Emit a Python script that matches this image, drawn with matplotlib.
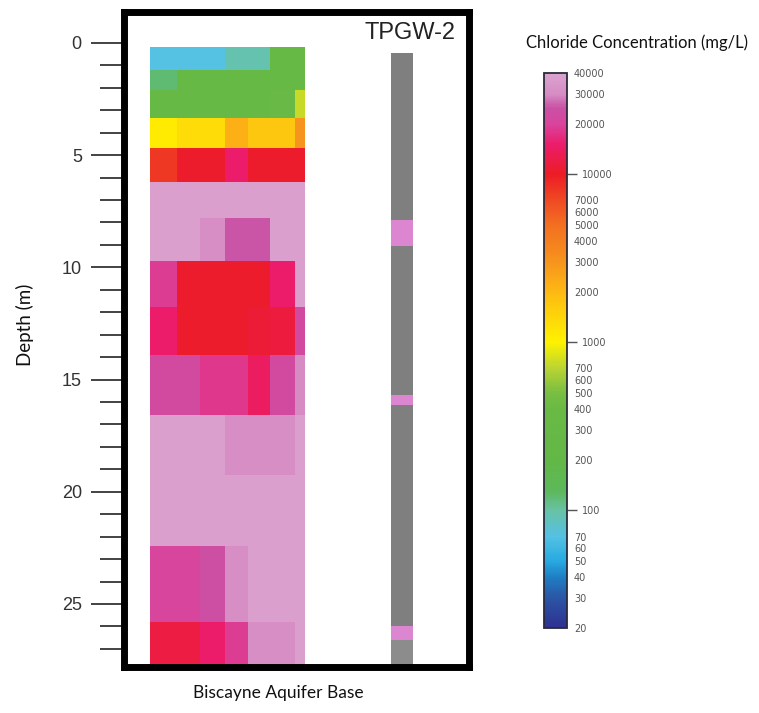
import numpy as np
import matplotlib
matplotlib.use("Agg")
import matplotlib.pyplot as plt
from matplotlib.colors import LinearSegmentedColormap, LogNorm
from matplotlib.ticker import FixedLocator, NullFormatter

# ---------------- data ----------------
# horizontal cell edges of the resistivity-derived section (arbitrary distance units)
col_edges = [7.7, 15.5, 22.1, 29.4, 36.0, 42.4, 49.6, 52.5]
# depth edges (m)
row_edges = [0.18, 1.2, 2.1, 3.35, 4.7, 6.2, 7.8, 9.7, 11.75, 13.9, 16.6, 19.25, 22.4, 25.8, 28.05]
# chloride concentration (mg/L) per cell, rows top->bottom, columns left->right
chloride = [
    [70, 70, 70, 95, 95, 300, 300],
    [120, 300, 300, 300, 300, 300, 300],
    [300, 300, 300, 300, 300, 330, 750],
    [1100, 1300, 1300, 2200, 1700, 1700, 3000],
    [8000, 10500, 10500, 15000, 10500, 10500, 10500],
    [38000, 38000, 38000, 38000, 38000, 38000, 38000],
    [38000, 38000, 31000, 25000, 25000, 38000, 38000],
    [19000, 10500, 10500, 10500, 10500, 15000, 38000],
    [15000, 10500, 10500, 10500, 11000, 11500, 22000],
    [22000, 22000, 18000, 18000, 14000, 22000, 30000],
    [38000, 38000, 38000, 31000, 31000, 31000, 38000],
    [38000, 38000, 38000, 38000, 38000, 38000, 38000],
    [20000, 20000, 24000, 31000, 38000, 38000, 38000],
    [12000, 12000, 15000, 19000, 31000, 31000, 38000],
]

# well log (TPGW-2) intervals
well_top = [0.45, 7.9, 9.05, 15.7, 16.15, 26.0, 26.6]
well_bottom = [7.9, 9.05, 15.7, 16.15, 26.0, 26.6, 28.2]
well_class = ["gray", "pink", "gray", "pink", "gray", "pink", "gray2"]
well_x = 80.6

# colour scale anchors
cb_values = [20, 30, 40, 50, 70, 100, 130, 200, 400, 500, 700, 1000, 2000, 3000,
             5000, 7000, 10000, 15000, 20000, 25000, 30000, 40000]
cb_colors = ["#2e3192", "#2b55a5", "#1f7fc4", "#27aae1", "#55c1e3", "#68c2a4", "#5cb85a",
             "#62b846", "#6ab945", "#78be42", "#b9d433", "#fff200", "#fdb913", "#f7941d",
             "#f36f21", "#ef4a23", "#ed1c24", "#ec1c6a", "#d9449c", "#c951a4", "#d68bc3", "#dba3cf"]
cb_tick_major = [100, 1000, 10000]
cb_tick_minor = [20, 30, 40, 50, 60, 70, 200, 300, 400, 500, 600, 700,
                 2000, 3000, 4000, 5000, 6000, 7000, 20000, 30000, 40000]

depth_ticks = [0, 5, 10, 15, 20, 25]
depth_minor = list(range(0, 29))

# ---------------- figure ----------------
W, H = 759, 713
fig = plt.figure(figsize=(W / 100, H / 100), dpi=100)
fig.patch.set_facecolor("white")

lo, hi = np.log10(20), np.log10(40000)
pos = [(np.log10(v) - lo) / (hi - lo) for v in cb_values]
cmap = LinearSegmentedColormap.from_list("chloride", list(zip(pos, cb_colors)), N=512)
norm = LogNorm(vmin=20, vmax=40000)

ax = fig.add_axes([123.5 / W, 1 - 667 / H, (469 - 123.5) / W, (667 - 12) / H])
mesh = ax.pcolormesh(col_edges, row_edges, np.array(chloride, float), cmap=cmap, norm=norm,
                     shading="flat", edgecolors="none", antialiased=False)

well_colors = {"gray": "#7f7f7f", "pink": "#dc86d2", "gray2": "#8c8c8c"}
for t, b, c in zip(well_top, well_bottom, well_class):
    ax.bar(well_x, b - t, bottom=t, width=6.4, color=well_colors[c], linewidth=0)

ax.set_xlim(0, 100)
ax.set_ylim(27.81, -1.38)
ax.set_xticks([])
ax.yaxis.set_major_locator(FixedLocator(depth_ticks))
ax.yaxis.set_minor_locator(FixedLocator(depth_minor))
ax.yaxis.set_minor_formatter(NullFormatter())
ax.set_yticklabels([str(d) for d in depth_ticks], fontfamily="Liberation Sans", fontsize=13, color="#333333")
ax.tick_params(axis="y", which="major", direction="out", length=24, width=1.2, pad=6, color="#222222")
ax.tick_params(axis="y", which="minor", direction="out", length=17, width=1.2, color="#222222")
for s in ax.spines.values():
    s.set_linewidth(5)
    s.set_color("black")

fig.text(25 / W, 1 - 325 / H, "Depth (m)", ha="center", va="center", rotation=90,
         fontfamily="Lato", fontsize=13.5, color="#111111")
fig.text(410 / W, 1 - 33 / H, "TPGW-2", ha="center", va="center",
         fontfamily="Liberation Sans", fontsize=17, color="#222222")
fig.text(278 / W, 1 - 693 / H, "Biscayne Aquifer Base", ha="center", va="center",
         fontfamily="Lato", fontsize=12.5, color="#111111")
fig.text(637 / W, 1 - 43 / H, "Chloride Concentration (mg/L)", ha="center", va="center",
         fontfamily="Lato", fontsize=12, color="#111111")

# ---------------- colorbar ----------------
cax = fig.add_axes([544 / W, 1 - 628 / H, 23 / W, (628 - 73) / H])
cb = fig.colorbar(mesh, cax=cax, orientation="vertical")
cb.outline.set_linewidth(1.3)
cb.outline.set_edgecolor("#2a2a3a")
cax.set_yticks(cb_tick_major, labels=[str(v) for v in cb_tick_major])
cax.set_yticks(cb_tick_minor, labels=[str(v) for v in cb_tick_minor], minor=True)
cax.tick_params(axis="y", which="major", length=7, width=1.0, pad=4, color="#555555",
                labelsize=7, labelcolor="#555555")
cax.tick_params(axis="y", which="minor", length=0, pad=5,
                labelsize=7, labelcolor="#555555")
for lab in cax.get_yticklabels(which="both"):
    lab.set_fontfamily("DejaVu Sans")

fig.savefig("out.png", dpi=100, facecolor="white")
